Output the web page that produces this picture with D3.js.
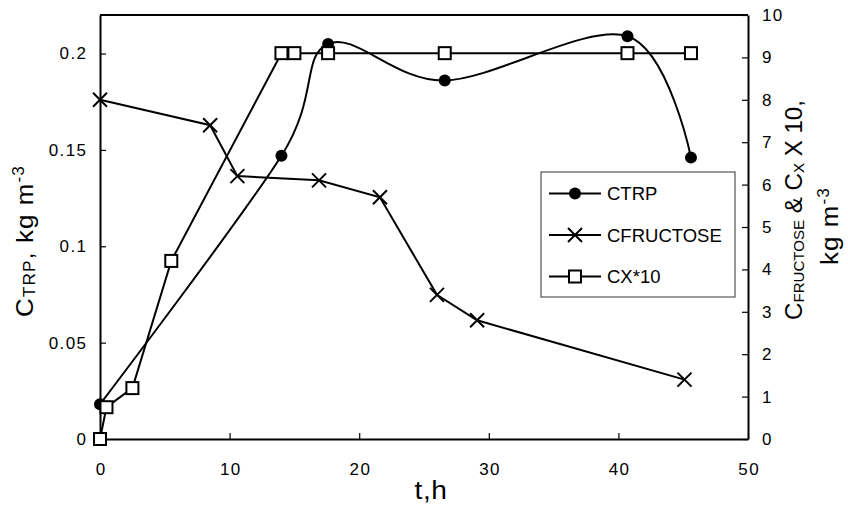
<!DOCTYPE html>
<html>
<head>
<meta charset="utf-8">
<script src="https://cdn.jsdelivr.net/npm/d3@7"></script>
<style>
  html, body { margin: 0; padding: 0; background: #fff; }
  svg { display: block; font-family: "Liberation Sans", Arial, sans-serif; }
</style>
</head>
<body>
<svg id="chart" width="848" height="508"></svg>
<script>
// Time (h) and concentrations
const tTrp = [0, 14, 17.6, 26.6, 40.7, 45.6];
const cTrp = [0.018, 0.147, 0.205, 0.186, 0.209, 0.146];

const tFru = [0, 8.5, 10.6, 16.9, 21.6, 26, 29.1, 45.1];
const cFru = [8.0, 7.4, 6.2, 6.1, 5.7, 3.4, 2.8, 1.4];

const tX = [0, 0.5, 2.5, 5.5, 14, 15, 17.6, 26.6, 40.7, 45.6];
const cX10 = [0, 0.75, 1.2, 4.2, 9.1, 9.1, 9.1, 9.1, 9.1, 9.1];

const xTicks = [0, 10, 20, 30, 40, 50];
const leftTicks = [0, 0.05, 0.1, 0.15, 0.2];
const rightTicks = [0, 1, 2, 3, 4, 5, 6, 7, 8, 9, 10];
const seriesNames = ["CTRP", "CFRUCTOSE", "CX*10"];

const svg = d3.select("#chart");
const L = 100, R = 748, T = 15, B = 439;

const x = d3.scaleLinear().domain([0, 50]).range([L, R]);
const yL = d3.scaleLinear().domain([0, 0.22]).range([B, T]);
const yR = d3.scaleLinear().domain([0, 10]).range([B, T]);

function styleAxis(g) {
  g.select(".domain").attr("stroke", "#000").attr("stroke-width", 2);
  g.selectAll(".tick line").attr("stroke", "#000").attr("stroke-width", 1.2);
  g.selectAll(".tick text").attr("fill", "#000")
    .style("font-size", "17px").style("letter-spacing", "1.4px")
    .style("font-family", "'Liberation Sans', Arial, sans-serif");
}

// frame top edge
svg.append("line").attr("x1", L).attr("x2", R).attr("y1", T).attr("y2", T)
  .attr("stroke", "#000").attr("stroke-width", 2);

svg.append("g").attr("transform", `translate(0,${B})`)
  .call(d3.axisBottom(x).tickValues(xTicks).tickFormat(d3.format("d"))
    .tickSizeInner(-6).tickSizeOuter(0).tickPadding(24))
  .call(styleAxis)
  .call(g => g.selectAll(".tick text").attr("dx", "0.7px"));

svg.append("g").attr("transform", `translate(${L},0)`)
  .call(d3.axisLeft(yL).tickValues(leftTicks).tickFormat(d => String(d))
    .tickSizeInner(-6).tickSizeOuter(0).tickPadding(12.6))
  .call(styleAxis);

svg.append("g").attr("transform", `translate(${R},0)`)
  .call(d3.axisRight(yR).tickValues(rightTicks).tickFormat(d3.format("d"))
    .tickSizeInner(-6).tickSizeOuter(0).tickPadding(14))
  .call(styleAxis);

// series
const trp = tTrp.map((t, i) => [x(t), yL(cTrp[i])]);
const fru = tFru.map((t, i) => [x(t), yR(cFru[i])]);
const cx = tX.map((t, i) => [x(t), yR(cX10[i])]);

const smooth = d3.line().curve(d3.curveCardinal.tension(0));
const straight = d3.line();

const plot = svg.append("g");

function circleMarker(g, p) {
  g.append("circle").attr("cx", p[0]).attr("cy", p[1]).attr("r", 6).attr("fill", "#000");
}
function crossMarker(g, p) {
  const s = 7;
  g.append("path")
    .attr("d", `M${p[0]-s},${p[1]-s}L${p[0]+s},${p[1]+s}M${p[0]-s},${p[1]+s}L${p[0]+s},${p[1]-s}`)
    .attr("stroke", "#000").attr("stroke-width", 2).attr("fill", "none");
}
function squareMarker(g, p) {
  const s = 6;
  g.append("rect").attr("x", p[0]-s).attr("y", p[1]-s).attr("width", 2*s).attr("height", 2*s)
    .attr("fill", "#fff").attr("stroke", "#000").attr("stroke-width", 2);
}

plot.append("path").attr("d", smooth(trp)).attr("fill", "none").attr("stroke", "#000").attr("stroke-width", 2);
trp.forEach(p => circleMarker(plot, p));

plot.append("path").attr("d", straight(fru)).attr("fill", "none").attr("stroke", "#000").attr("stroke-width", 2);
fru.forEach(p => crossMarker(plot, p));

plot.append("path").attr("d", straight(cx)).attr("fill", "none").attr("stroke", "#000").attr("stroke-width", 2);
cx.forEach(p => squareMarker(plot, p));

// legend
const lg = svg.append("g");
lg.append("rect").attr("x", 541).attr("y", 172).attr("width", 194).attr("height", 125)
  .attr("fill", "#fff").attr("stroke", "#333").attr("stroke-width", 1);
const markers = [circleMarker, crossMarker, squareMarker];
const legendY = [193.5, 235, 276.5];
seriesNames.forEach((name, i) => {
  const y = legendY[i];
  lg.append("line").attr("x1", 549).attr("x2", 601).attr("y1", y).attr("y2", y)
    .attr("stroke", "#000").attr("stroke-width", 2);
  markers[i](lg, [575, y]);
  lg.append("text").attr("x", 607).attr("y", y + 6.7)
    .style("font-size", "18.5px").attr("fill", "#000").text(name);
});

// axis titles, fitted to their reading length
function fit(textSel, cx, cy, rot, len) {
  const w = textSel.node().getComputedTextLength();
  const k = len / w;
  textSel.attr("text-anchor", "middle")
    .attr("transform", `translate(${cx},${cy}) rotate(${rot}) scale(${k},1)`);
}

function title(parts, size, spacing, small) {
  const t = svg.append("text").attr("x", 0).attr("y", 0).attr("fill", "#000")
    .style("font-size", size + "px").style("letter-spacing", spacing + "px");
  parts.forEach(([s, kind]) => {
    const sp = t.append("tspan").text(s);
    if (kind === "sub") sp.style("font-size", small + "px").attr("baseline-shift", "-2");
    if (kind === "sup") sp.style("font-size", small + "px").attr("baseline-shift", "9");
  });
  return t;
}

const tL = title([["C"], ["TRP", "sub"], [", kg m"], ["-3", "sup"]], 24, 1, 16);
fit(tL, 33, 241, -90, 152);

const tR1 = title([["C"], ["FRUCTOSE", "sub"], [" & C"], ["X", "sub"], [" X 10,"]], 24, 0, 15);
fit(tR1, 802, 210, -90, 220);

const tR2 = title([["kg m"], ["-3", "sup"]], 24, 1, 16);
fit(tR2, 838, 226, -90, 78);

const tX_ = title([["t,h"]], 25, 0.5, 16);
fit(tX_, 431, 499, 0, 33);
</script>
</body>
</html>
